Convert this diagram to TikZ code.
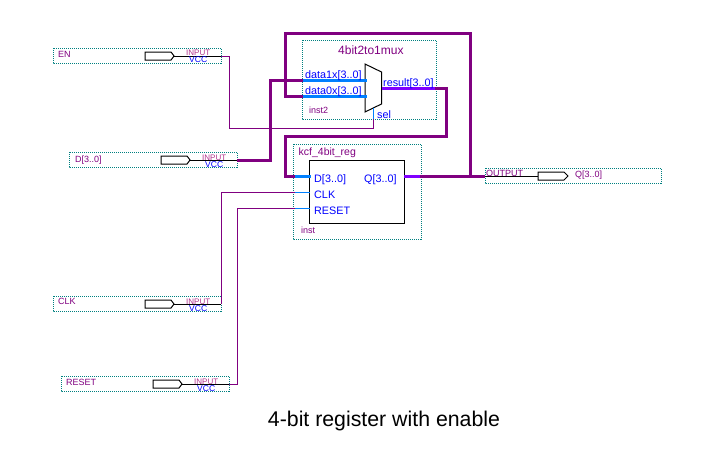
\documentclass[tikz,border=0pt]{standalone}
\usepackage{fontspec}
\setmainfont{Liberation Sans}
\definecolor{wirepurple}{HTML}{800080}
\definecolor{portblue}{HTML}{0080FF}
\definecolor{busviolet}{HTML}{8000FF}
\definecolor{groupteal}{HTML}{008080}
\definecolor{pinpink}{HTML}{B0308C}
\tikzset{
    groupbox/.style={draw=groupteal, densely dotted, line width=1pt},
    wire/.style={draw=wirepurple, line width=1pt},
    bus/.style={draw=wirepurple, line width=3pt},
    pinwire/.style={draw=black, line width=1pt},
    portwire/.style={draw=portblue, line width=1pt},
    portbus/.style={draw=portblue, line width=3pt},
    outbus/.style={draw=busviolet, line width=3pt},
    pinshape/.style={draw=black, line width=1pt},
    portlabel/.style={anchor=base west, inner sep=0pt, text=blue, font=\fontsize{10.8}{12}\selectfont},
    namelabel/.style={anchor=base west, inner sep=0pt, text=wirepurple, font=\fontsize{9}{11}\selectfont},
    instlabel/.style={anchor=base west, inner sep=0pt, text=wirepurple, font=\fontsize{9}{11}\selectfont},
    inputlabel/.style={anchor=base west, inner sep=0pt, text=pinpink, font=\fontsize{8}{10}\selectfont},
    vcclabel/.style={anchor=base west, inner sep=0pt, text=blue, font=\fontsize{8.5}{10}\selectfont},
}
\begin{document}
\begin{tikzpicture}[x=1pt, y=-1pt]
    \useasboundingbox (0,0) rectangle (716,455);

    % Group boxes
    \draw[groupbox] (53,48)   rectangle (221,63);
    \draw[groupbox] (69,152)  rectangle (237,167);
    \draw[groupbox] (53,296)  rectangle (221,311);
    \draw[groupbox] (61,376)  rectangle (229,391);
    \draw[groupbox] (485,168) rectangle (661,183);
    \draw[groupbox] (302,40)  rectangle (436,119);
    \draw[groupbox] (293,144) rectangle (421,239);

    % Input and output pins
    \coordinate (enTip)    at (174,56);
    \coordinate (dTip)     at (190,160);
    \coordinate (clkTip)   at (174,304);
    \coordinate (resetTip) at (182,384);
    \coordinate (outTail)  at (538,176);
    \draw[pinshape] (145,52)  -- (171,52)  -- (enTip)    -- (171,60)  -- (145,60)  -- cycle;
    \draw[pinshape] (161,156) -- (187,156) -- (dTip)     -- (187,164) -- (161,164) -- cycle;
    \draw[pinshape] (145,300) -- (171,300) -- (clkTip)   -- (171,308) -- (145,308) -- cycle;
    \draw[pinshape] (153,380) -- (179,380) -- (resetTip) -- (179,388) -- (153,388) -- cycle;
    \draw[pinshape] (outTail) -- (538,172) -- (564,172) -- (568,176) -- (564,180) -- (538,180) -- cycle;

    % Mux body
    \coordinate (muxTop)  at (365,64);
    \coordinate (muxSel)  at (373,108);
    \coordinate (muxOut)  at (381.5,88);
    \coordinate (mux1x)   at (367,80);
    \coordinate (mux0x)   at (367,96);
    \draw[pinshape] (muxTop) -- (381.5,72) -- (381.5,104) -- (365,112) -- cycle;

    % Register body
    \node[draw=black, line width=1pt, minimum width=95pt, minimum height=63pt, inner sep=0pt] (regBody) at (356.5,191.5) {};
    \coordinate (regD)     at (311,176);
    \coordinate (regCLK)   at (310,192);
    \coordinate (regRESET) at (310,208);
    \coordinate (regQ)     at (404,176);

    % Coordinates where the wires change colour
    \coordinate (enEnd)    at (221,56);
    \coordinate (dEnd)     at (237,160);
    \coordinate (clkEnd)   at (221,304);
    \coordinate (resetEnd) at (229,384);
    \coordinate (outEnd)   at (485,176);
    \coordinate (selIn)    at (373,119);
    \coordinate (in1x)     at (303,80);
    \coordinate (in0x)     at (303,96);
    \coordinate (outRes)   at (435,88);
    \coordinate (inD)      at (295,176);
    \coordinate (inCLK)    at (295,192);
    \coordinate (inRESET)  at (295,208);
    \coordinate (outQ)     at (420,176);
    \coordinate (tapQ)     at (470,176);

    % Thin wires
    \draw[pinwire] (enTip) -- (enEnd);
    \draw[pinwire] (dTip) -- (dEnd);
    \draw[pinwire] (clkTip) -- (clkEnd);
    \draw[pinwire] (resetTip) -- (resetEnd);
    \draw[pinwire] (outEnd) -- (outTail);
    \draw[wire] (enEnd) -- (229,56) -- (229,128) -- (373,128) -- (selIn);
    \draw[wire] (clkEnd) -- (221,192) -- (inCLK);
    \draw[wire] (resetEnd) -- (237,384) -- (237,208) -- (inRESET);
    \draw[portwire] (selIn) -- (muxSel);
    \draw[portwire] (inCLK) -- (regCLK);
    \draw[portwire] (inRESET) -- (regRESET);

    % Buses
    \draw[bus] (dEnd) -- (270,160) -- (270,80) -- (in1x);
    \draw[bus, line join=miter] (outQ) -- (outEnd);
    \draw[bus, line join=miter] (tapQ) -- (470,33) -- (285,33) -- (285,96) -- (in0x);
    \draw[bus, line join=miter] (outRes) -- (446,88) -- (446,136) -- (285,136) -- (285,176) -- (inD);
    \draw[portbus] (in1x) -- (mux1x);
    \draw[portbus] (in0x) -- (mux0x);
    \draw[portbus] (inD) -- (regD);
    \draw[outbus] (muxOut) -- (outRes);
    \draw[outbus] (regQ) -- (outQ);

    % Pin labels
    \node[namelabel] (enName) at (58,57) {EN};
    \node[inputlabel] (enInput) at (186,56) {INPUT};
    \node[vcclabel] (enVcc) at (189,63) {VCC};
    \node[namelabel] (dName) at (75,162) {D[3..0]};
    \node[inputlabel] (dInput) at (202,160) {INPUT};
    \node[vcclabel] (dVcc) at (205,167) {VCC};
    \node[namelabel] (clkName) at (58,304) {CLK};
    \node[inputlabel] (clkInput) at (186,304) {INPUT};
    \node[vcclabel] (clkVcc) at (189,311) {VCC};
    \node[namelabel] (resetName) at (66,385) {RESET};
    \node[inputlabel] (resetInput) at (194,384) {INPUT};
    \node[vcclabel] (resetVcc) at (197,391) {VCC};
    \node[namelabel] (outLabel) at (486,176) {OUTPUT};
    \node[namelabel] (outName) at (575,177) {Q[3..0]};

    % Block labels
    \node[anchor=base west, inner sep=0pt, text=wirepurple, font=\fontsize{12}{14}\selectfont] (muxName) at (338,54) {4bit2to1mux};
    \node[portlabel] (lab1x) at (305,78) {data1x[3..0]};
    \node[portlabel] (lab0x) at (305,94) {data0x[3..0]};
    \node[portlabel] (labRes) at (383,86) {result[3..0]};
    \node[portlabel] (labSel) at (377,118) {sel};
    \node[instlabel] (muxInst) at (309,113) {inst2};
    \node[anchor=base west, inner sep=0pt, text=wirepurple, font=\fontsize{10.5}{12}\selectfont] (regName) at (298.5,155) {kcf\_4bit\_reg};
    \node[portlabel] (labD) at (314,182) {D[3..0]};
    \node[portlabel] (labQ) at (364,182) {Q[3..0]};
    \node[portlabel] (labCLK) at (314,198) {CLK};
    \node[portlabel] (labRESET) at (314,214) {RESET};
    \node[instlabel] (regInst) at (301,233) {inst};

    % Caption
    \node[anchor=base, inner sep=0pt, font=\fontsize{21.3}{24}\selectfont] (caption) at (384,426) {4-bit register with enable};
\end{tikzpicture}
\end{document}
